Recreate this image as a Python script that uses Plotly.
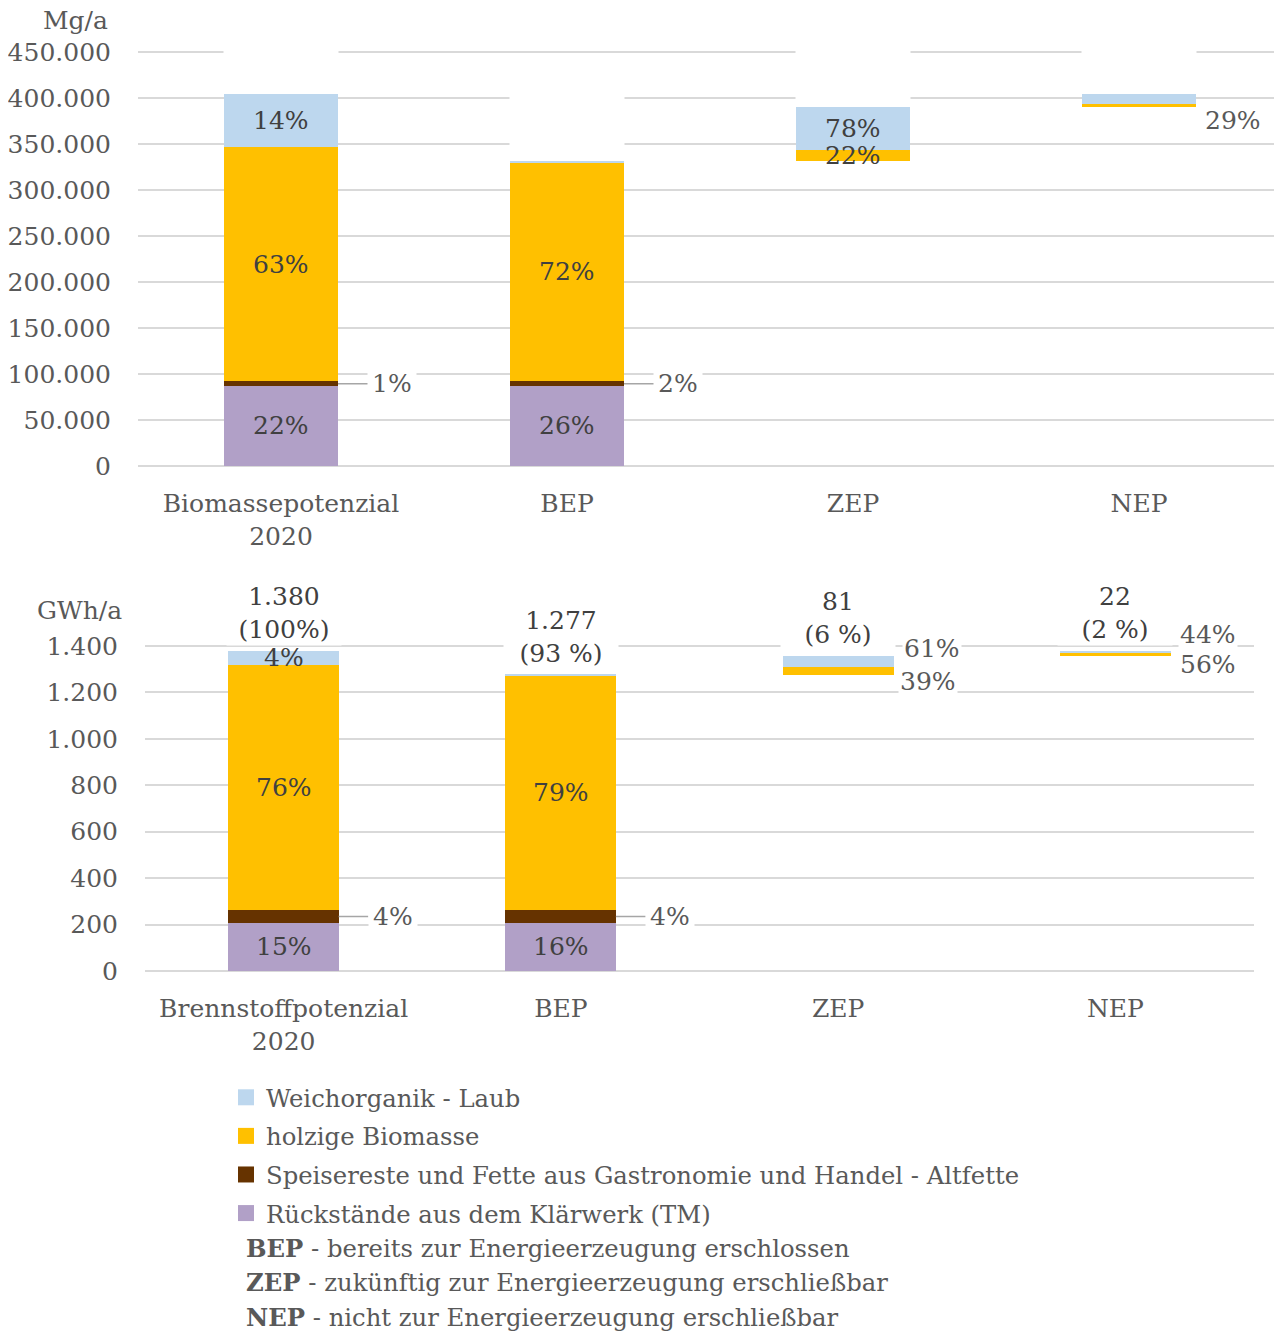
import plotly.graph_objects as go

# Series in stacking order (bottom -> top)
SERIES = [
    "Rückstände aus dem Klärwerk (TM)",
    "Speisereste und Fette aus Gastronomie und Handel - Altfette",
    "holzige Biomasse",
    "Weichorganik - Laub",
]
COLORS = ["#B1A0C7", "#663300", "#FFC000", "#BDD7EE"]

# --- Mg/a (top chart) ---
cats_mg = ["Biomassepotenzial<br>2020", "BEP", "ZEP", "NEP"]
klaer_mg = [87000, 87000, 0, 0]
fett_mg = [5000, 5000, 0, 0]
holz_mg = [255000, 238000, 13000, 4000]
laub_mg = [57000, 1000, 46000, 10000]
lbl_klaer_mg = ["22%", "26%", "", ""]
lbl_fett_mg = ["1%", "2%", "", ""]
lbl_holz_mg = ["63%", "72%", "22%", "29%"]
lbl_laub_mg = ["14%", "", "78%", ""]
tot_lbl_mg = ["&nbsp;<br>&nbsp;"] * 4   # Excel kept empty total boxes
ticks_mg = list(range(0, 450001, 50000))

# --- GWh/a (bottom chart) ---
cats_gwh = ["Brennstoffpotenzial<br>2020", "BEP", "ZEP", "NEP"]
klaer_gwh = [207, 207, 0, 0]
fett_gwh = [56, 56, 0, 0]
holz_gwh = [1055, 1012, 32, 12]
laub_gwh = [62, 2, 49, 10]
lbl_klaer_gwh = ["15%", "16%", "", ""]
lbl_fett_gwh = ["4%", "4%", "", ""]
lbl_holz_gwh = ["76%", "79%", "39%", "56%"]
lbl_laub_gwh = ["4%", "", "61%", "44%"]
tot_lbl_gwh = ["1.380<br>(100%)", "1.277<br>(93 %)", "81<br>(6 %)", "22<br>(2 %)"]
ticks_gwh = list(range(0, 1401, 200))

FONT = "DejaVu Serif"
AXIS_GREY = "#595959"
LABEL_GREY = "#404040"
GRID = "#D9D9D9"
FS = 25
FS_TXT = 24.3

# page body has an 8px margin; work in screen pixels and convert
OX, OY = 8, 8
W, H = 1274, 1324


def px(x):
    return (x - OX) / W


def py(y):
    return 1 - (y - OY) / H


def y_domain(y0_px, ytop_px, top_val, headroom):
    """Domain whose range [0, top_val*(1+headroom)] puts top_val at ytop_px."""
    span = (y0_px - ytop_px) * (1 + headroom)
    return [py(y0_px), py(y0_px - span)], [0, top_val * (1 + headroom)]


def floors_of(series):
    """Waterfall: first two bars from 0, later bars float on the running total."""
    totals = [sum(v) for v in zip(*series)]
    floors = [0, 0]
    run = totals[1]
    for t in totals[2:]:
        floors.append(run)
        run += t
    return floors, totals


fig = go.Figure()


def add_chart(xa, ya, cats, series, labels, tot_labels, placement):
    floors, totals = floors_of(series)
    fig.add_bar(x=cats, y=floors, marker_color="rgba(0,0,0,0)",
                marker_line_width=0, showlegend=False, hoverinfo="skip",
                xaxis=xa, yaxis=ya)
    for name, color, vals in zip(SERIES, COLORS, series):
        fig.add_bar(x=cats, y=vals, name=name, marker_color=color,
                    marker_line_width=0, showlegend=False,
                    xaxis=xa, yaxis=ya)
    # segment labels
    for s, (vals, texts) in enumerate(zip(series, labels)):
        for c, (v, t) in enumerate(zip(vals, texts)):
            if not t:
                continue
            mid = floors[c] + sum(series[k][c] for k in range(s)) + v / 2
            kind, xs, ys = placement.get((s, c), ("in", 0, 0))
            if kind == "leader":
                fig.add_annotation(
                    x=cats[c], y=mid, xref=xa, yref=ya, text=t,
                    xshift=xs, showarrow=True, arrowhead=0, arrowwidth=1.5,
                    arrowcolor="#A6A6A6", ax=54, ay=0, standoff=0,
                    font=dict(family=FONT, size=FS, color=AXIS_GREY),
                    bgcolor="white", borderpad=4)
            else:
                fig.add_annotation(
                    x=cats[c], y=mid, xref=xa, yref=ya, text=t,
                    xshift=xs, yshift=ys, showarrow=False,
                    font=dict(family=FONT, size=FS,
                              color=LABEL_GREY if kind == "in" else AXIS_GREY),
                    bgcolor="white" if kind == "out" else None)
    # total labels with white boxes
    for c, t in enumerate(tot_labels):
        fig.add_annotation(
            x=cats[c], y=floors[c] + totals[c], xref=xa, yref=ya,
            text=t, showarrow=False, yanchor="bottom", yshift=5,
            font=dict(family=FONT, size=FS, color=LABEL_GREY),
            bgcolor="white", width=112)


# placement: (series index, category index) -> (kind, xshift, yshift)
place_mg = {
    (1, 0): ("leader", 57, 0),
    (1, 1): ("leader", 57, 0),
    (2, 3): ("out", 94, -15),
}
place_gwh = {
    (1, 0): ("leader", 55, 0),
    (1, 1): ("leader", 55, 0),
    (3, 2): ("out", 94, 13),
    (2, 2): ("out", 90, -11),
    (3, 3): ("out", 93, 17),
    (2, 3): ("out", 93, -10),
}

add_chart("x", "y", cats_mg,
          [klaer_mg, fett_mg, holz_mg, laub_mg],
          [lbl_klaer_mg, lbl_fett_mg, lbl_holz_mg, lbl_laub_mg],
          tot_lbl_mg, place_mg)
add_chart("x2", "y2", cats_gwh,
          [klaer_gwh, fett_gwh, holz_gwh, laub_gwh],
          [lbl_klaer_gwh, lbl_fett_gwh, lbl_holz_gwh, lbl_laub_gwh],
          tot_lbl_gwh, place_gwh)

# legend entries (square swatches), top of the list = top of the stack
for name, color in reversed(list(zip(SERIES, COLORS))):
    fig.add_scatter(x=[None], y=[None], mode="markers", name=name,
                    legendgroup=name,
                    marker=dict(symbol="square", size=16, color=color),
                    xaxis="x2", yaxis="y2", hoverinfo="skip")

tickfont = dict(family=FONT, size=FS, color=AXIS_GREY)
xcommon = dict(type="category", showgrid=False, showline=False, ticks="",
               tickfont=tickfont, automargin=False, ticklabelstandoff=20,
               fixedrange=True)
ycommon = dict(showgrid=True, gridcolor=GRID, gridwidth=1.5, zeroline=True,
               zerolinecolor=GRID, zerolinewidth=1.5, showline=False,
               ticks="", tickfont=tickfont, automargin=False,
               tickformat=",.0f", ticklabelstandoff=26)

dom1, rng1 = y_domain(466, 52, ticks_mg[-1], 0.01)
dom2, rng2 = y_domain(971, 646, ticks_gwh[-1], 0.01)

fig.update_layout(
    width=W, height=H,
    margin=dict(l=0, r=0, t=0, b=0),
    paper_bgcolor="white", plot_bgcolor="white",
    barmode="stack", bargap=0.6,
    separators=",.",
    font=dict(family=FONT, size=FS, color=AXIS_GREY),
    xaxis=dict(domain=[px(138), px(1282)], anchor="y", **xcommon),
    yaxis=dict(domain=dom1, anchor="x", range=rng1, tickvals=ticks_mg,
               **ycommon),
    xaxis2=dict(domain=[px(145), px(1254)], anchor="y2", **xcommon),
    yaxis2=dict(domain=dom2, anchor="x2", range=rng2, tickvals=ticks_gwh,
                **ycommon),
    legend=dict(x=px(226), y=py(1075), xanchor="left", yanchor="top",
                traceorder="grouped", tracegroupgap=4,
                font=dict(family=FONT, size=FS_TXT, color=AXIS_GREY),
                bgcolor="rgba(0,0,0,0)", itemclick=False),
    showlegend=True,
)

# axis unit titles
fig.add_annotation(x=px(110), y=py(21), xref="paper", yref="paper",
                   text="Mg/a", showarrow=False, xanchor="right",
                   yanchor="middle",
                   font=dict(family=FONT, size=FS, color=AXIS_GREY))
fig.add_annotation(x=px(79), y=py(610), xref="paper", yref="paper",
                   text="GWh/a", showarrow=False, xanchor="center",
                   yanchor="middle",
                   font=dict(family=FONT, size=FS, color=AXIS_GREY))

# abbreviation notes below the legend
notes = [
    ("BEP", "bereits zur Energieerzeugung erschlossen"),
    ("ZEP", "zukünftig zur Energieerzeugung erschließbar"),
    ("NEP", "nicht zur Energieerzeugung erschließbar"),
]
for i, (abbr, desc) in enumerate(notes):
    fig.add_annotation(x=px(244), y=py(1248 + 34.5 * i),
                       xref="paper", yref="paper", xanchor="left",
                       yanchor="middle",
                       text=f"<b>{abbr}</b> - {desc}", showarrow=False,
                       font=dict(family=FONT, size=FS_TXT, color=AXIS_GREY))

fig.write_html("out.html")
